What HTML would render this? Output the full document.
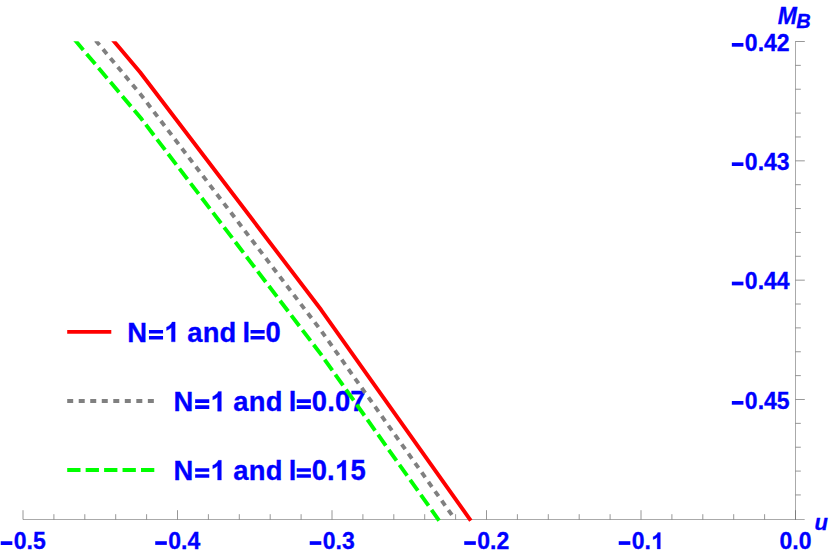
<!DOCTYPE html>
<html><head><meta charset="utf-8"><title>Plot</title>
<style>
html,body{margin:0;padding:0;background:#fff;}
svg{display:block;}
text{font-family:"Liberation Sans",sans-serif;font-weight:bold;fill:#0000ff;stroke:#0000ff;stroke-width:0.3px;}
.g{fill:#0000ff;stroke:#0000ff;stroke-width:0.3px;vector-effect:non-scaling-stroke;}
</style></head><body>
<svg width="830" height="556" viewBox="0 0 830 556">
<rect width="830" height="556" fill="#ffffff"/>
<defs><clipPath id="c"><rect x="0" y="41.2" width="830" height="500"/></clipPath></defs>
<g stroke="#666666" stroke-width="0.68" fill="none">
<path d="M23,519.5 H804.7" stroke-width="0.56"/>
<path d="M795.5,41.2 V519.8" stroke-width="0.56"/>
<path d="M795.50,519.5 v-9.3"/>
<path d="M764.60,519.5 v-5.3"/>
<path d="M733.70,519.5 v-5.3"/>
<path d="M702.80,519.5 v-5.3"/>
<path d="M671.90,519.5 v-5.3"/>
<path d="M641.00,519.5 v-9.3"/>
<path d="M610.10,519.5 v-5.3"/>
<path d="M579.20,519.5 v-5.3"/>
<path d="M548.30,519.5 v-5.3"/>
<path d="M517.40,519.5 v-5.3"/>
<path d="M486.50,519.5 v-9.3"/>
<path d="M455.60,519.5 v-5.3"/>
<path d="M424.70,519.5 v-5.3"/>
<path d="M393.80,519.5 v-5.3"/>
<path d="M362.90,519.5 v-5.3"/>
<path d="M332.00,519.5 v-9.3"/>
<path d="M301.10,519.5 v-5.3"/>
<path d="M270.20,519.5 v-5.3"/>
<path d="M239.30,519.5 v-5.3"/>
<path d="M208.40,519.5 v-5.3"/>
<path d="M177.50,519.5 v-9.3"/>
<path d="M146.60,519.5 v-5.3"/>
<path d="M115.70,519.5 v-5.3"/>
<path d="M84.80,519.5 v-5.3"/>
<path d="M53.90,519.5 v-5.3"/>
<path d="M23.00,519.5 v-9.3"/>
<path d="M795.5,41.50 h9.3"/>
<path d="M795.5,65.37 h5.3"/>
<path d="M795.5,89.23 h5.3"/>
<path d="M795.5,113.10 h5.3"/>
<path d="M795.5,136.96 h5.3"/>
<path d="M795.5,160.83 h9.3"/>
<path d="M795.5,184.70 h5.3"/>
<path d="M795.5,208.56 h5.3"/>
<path d="M795.5,232.43 h5.3"/>
<path d="M795.5,256.29 h5.3"/>
<path d="M795.5,280.16 h9.3"/>
<path d="M795.5,304.03 h5.3"/>
<path d="M795.5,327.89 h5.3"/>
<path d="M795.5,351.76 h5.3"/>
<path d="M795.5,375.62 h5.3"/>
<path d="M795.5,399.49 h9.3"/>
<path d="M795.5,423.36 h5.3"/>
<path d="M795.5,447.22 h5.3"/>
<path d="M795.5,471.09 h5.3"/>
<path d="M795.5,494.95 h5.3"/>
</g>
<text transform="translate(795.50 548.90) scale(1 1.0)" font-size="23" text-anchor="middle">0.0</text>
<path fill="#0000ff" d="M618.73,541.20h11.6v3.7h-11.6z"/>
<text transform="translate(631.73 548.90) scale(1 1.0)" font-size="23">0.</text>
<path class="g" transform="translate(651.31 548.90) scale(0.01123 -0.01107)" d="M805 0L524 0L524 1059Q370 915 161 846L161 1101Q271 1137 400 1237.5Q529 1338 577 1472L805 1472Z"/>
<path fill="#0000ff" d="M464.23,541.20h11.6v3.7h-11.6z"/>
<text transform="translate(477.23 548.90) scale(1 1.0)" font-size="23">0.2</text>
<path fill="#0000ff" d="M309.73,541.20h11.6v3.7h-11.6z"/>
<text transform="translate(322.73 548.90) scale(1 1.0)" font-size="23">0.3</text>
<path fill="#0000ff" d="M155.23,541.20h11.6v3.7h-11.6z"/>
<text transform="translate(168.23 548.90) scale(1 1.0)" font-size="23">0.4</text>
<path fill="#0000ff" d="M0.73,541.20h11.6v3.7h-11.6z"/>
<text transform="translate(13.73 548.90) scale(1 1.0)" font-size="23">0.5</text>
<path fill="#0000ff" d="M731.84,43.00h11.6v3.7h-11.6z"/>
<text transform="translate(744.84 50.70) scale(1 1.0)" font-size="23">0.42</text>
<path fill="#0000ff" d="M731.84,162.33h11.6v3.7h-11.6z"/>
<text transform="translate(744.84 170.03) scale(1 1.0)" font-size="23">0.43</text>
<path fill="#0000ff" d="M731.84,281.66h11.6v3.7h-11.6z"/>
<text transform="translate(744.84 289.36) scale(1 1.0)" font-size="23">0.44</text>
<path fill="#0000ff" d="M731.84,400.99h11.6v3.7h-11.6z"/>
<text transform="translate(744.84 408.69) scale(1 1.0)" font-size="23">0.45</text>
<text transform="translate(777.70 23.60) scale(1 1.04)" font-size="23" font-style="italic">M<tspan font-size="20" dy="4.1" dx="-0.6">B</tspan></text>
<text transform="translate(814.60 529.60) scale(1 1)" font-size="22" font-style="italic">u</text>
<g fill="none" stroke-width="3.9">
<path d="M67.2,331.9 H111.3" stroke="#ff0000"/>
<path d="M67.2,401 H154.5" stroke="#808080" stroke-dasharray="6.0 5.52"/>
<path d="M67.2,470 H154.5" stroke="#00ff00" stroke-dasharray="13.3 5.15"/>
</g>
<text transform="translate(127.25 341.80) scale(1 1.04)" font-size="27.4">N</text>
<path fill="#0000ff" d="M148.95,329.95h14.1v3.6h-14.1zM148.95,335.95h14.1v3.6h-14.1z"/>
<path class="g" transform="translate(164.40 341.80) scale(0.01338 -0.01344)" d="M805 0L524 0L524 1059Q370 915 161 846L161 1101Q271 1137 400 1237.5Q529 1338 577 1472L805 1472Z"/>
<text transform="translate(187.15 341.80) scale(1 0.975)" font-size="27.4" letter-spacing="0.25">and</text>
<text transform="translate(242.55 341.80) scale(1 1.0)" font-size="27.4">l</text>
<path fill="#0000ff" d="M250.55,329.95h14.1v3.6h-14.1zM250.55,335.95h14.1v3.6h-14.1z"/>
<text transform="translate(265.60 341.80) scale(1 1.05)" font-size="27.4" letter-spacing="0.15">0</text>
<text transform="translate(173.45 411.20) scale(1 1.04)" font-size="27.4">N</text>
<path fill="#0000ff" d="M195.15,399.35h14.1v3.6h-14.1zM195.15,405.35h14.1v3.6h-14.1z"/>
<path class="g" transform="translate(210.60 411.20) scale(0.01338 -0.01344)" d="M805 0L524 0L524 1059Q370 915 161 846L161 1101Q271 1137 400 1237.5Q529 1338 577 1472L805 1472Z"/>
<text transform="translate(233.35 411.20) scale(1 0.975)" font-size="27.4" letter-spacing="0.25">and</text>
<text transform="translate(288.75 411.20) scale(1 1.0)" font-size="27.4">l</text>
<path fill="#0000ff" d="M296.75,399.35h14.1v3.6h-14.1zM296.75,405.35h14.1v3.6h-14.1z"/>
<text transform="translate(311.80 411.20) scale(1 1.05)" font-size="27.4" letter-spacing="0.15">0.07</text>
<text transform="translate(173.45 480.10) scale(1 1.04)" font-size="27.4">N</text>
<path fill="#0000ff" d="M195.15,468.25h14.1v3.6h-14.1zM195.15,474.25h14.1v3.6h-14.1z"/>
<path class="g" transform="translate(210.60 480.10) scale(0.01338 -0.01344)" d="M805 0L524 0L524 1059Q370 915 161 846L161 1101Q271 1137 400 1237.5Q529 1338 577 1472L805 1472Z"/>
<text transform="translate(233.35 480.10) scale(1 0.975)" font-size="27.4" letter-spacing="0.25">and</text>
<text transform="translate(288.75 480.10) scale(1 1.0)" font-size="27.4">l</text>
<path fill="#0000ff" d="M296.75,468.25h14.1v3.6h-14.1zM296.75,474.25h14.1v3.6h-14.1z"/>
<text transform="translate(311.80 480.10) scale(1 1.05)" font-size="27.4">0.</text>
<path class="g" transform="translate(335.10 480.10) scale(0.01338 -0.01344)" d="M805 0L524 0L524 1059Q370 915 161 846L161 1101Q271 1137 400 1237.5Q529 1338 577 1472L805 1472Z"/>
<text transform="translate(350.40 480.10) scale(1 1.05)" font-size="27.4">5</text>
<g clip-path="url(#c)" fill="none" stroke-linejoin="round">
<path d="M69.45,33.56 L141,118.3 L321,354.4 L439.1,520.6" stroke="#00ff00" stroke-width="3.9" stroke-dasharray="13.3 5.15" stroke-dashoffset="10.25"/>
<path d="M89.9,33.51 L141,94.9 L321,330.5 L452.6,516.0" stroke="#808080" stroke-width="3.9" stroke-dasharray="6.0 5.52" stroke-dashoffset="2.5"/>
<path d="M104.4,30 L140.1,72.2 L321.1,309.8 L470.8,520.6" stroke="#ff0000" stroke-width="3.9"/>
</g>
</svg>
</body></html>
